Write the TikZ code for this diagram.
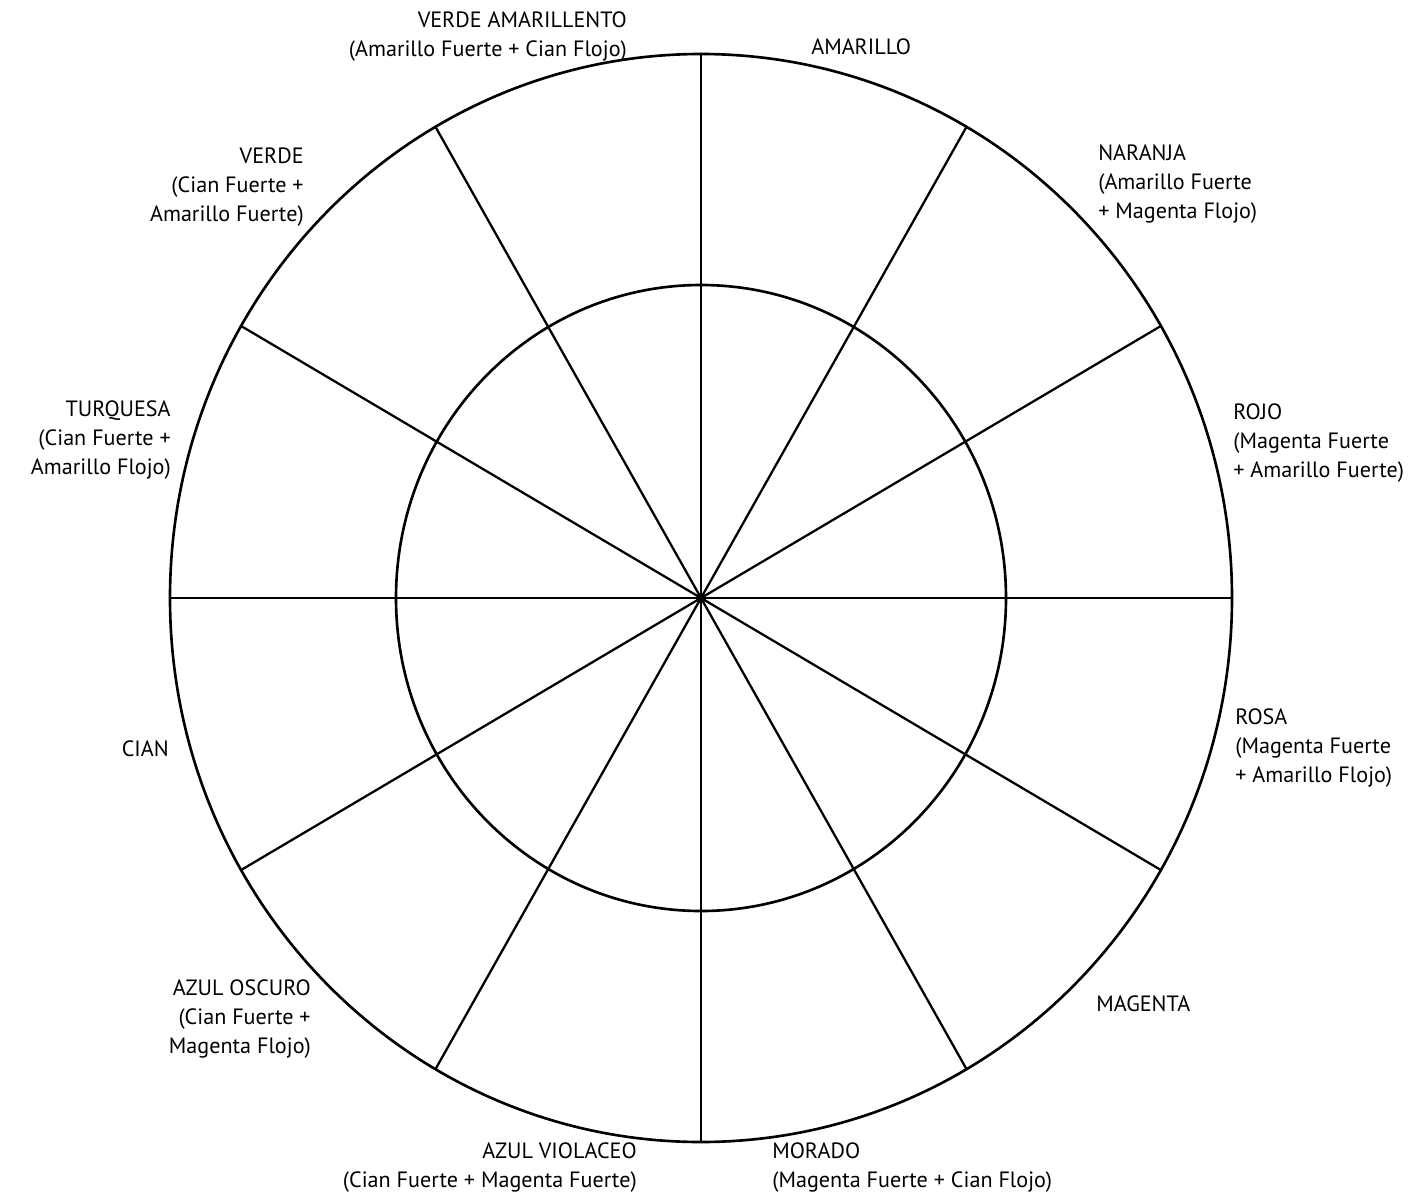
\documentclass[tikz,border=0pt]{standalone}
\usepackage{fontspec}
\setmainfont{PT Sans}
\usetikzlibrary{positioning}
\tikzset{
    every picture/.style={
        every path/.style={line width=1.5pt},
    },
    lblright/.style={anchor=west, align=left, inner sep=0pt, font=\fontsize{12.6}{16.5}\selectfont},
    lblleft/.style={anchor=east, align=right, inner sep=0pt, font=\fontsize{12.6}{16.5}\selectfont},
}

\begin{document}
\begin{tikzpicture}[x=0.02cm, y=-0.02cm]
    \useasboundingbox (0,0) rectangle (1418,1197);
    \coordinate (c) at (701,598);
    % wheel
    \draw (c) ellipse [x radius=531, y radius=544];
    \draw (c) ellipse [x radius=305, y radius=313];
    \foreach \a in {0,30,...,330}
        \draw[line width=1.3pt] (c) -- ++({531*cos(\a)},{544*sin(\a)});
    \fill (c) circle [radius=5];
    % labels
    \node[lblleft] (verdeam) at (628,37) {VERDE AMARILLENTO\\(Amarillo Fuerte + Cian Flojo)};
    \node[lblright] (amarillo) at (810,47) {AMARILLO};
    \node[lblright] (naranja) at (1097,184) {NARANJA\\(Amarillo Fuerte\\+ Magenta Flojo)};
    \node[lblright] (rojo) at (1232,443) {ROJO\\(Magenta Fuerte\\+ Amarillo Fuerte)};
    \node[lblright] (rosa) at (1234,748) {ROSA\\(Magenta Fuerte\\+ Amarillo Flojo)};
    \node[lblright] (magenta) at (1095,1004) {MAGENTA};
    \node[lblright] (morado) at (771,1168) {MORADO\\(Magenta Fuerte + Cian Flojo)};
    \node[lblleft] (azulvio) at (638,1168) {AZUL VIOLACEO\\(Cian Fuerte + Magenta Fuerte)};
    \node[lblleft] (azulosc) at (312,1019) {AZUL OSCURO\\(Cian Fuerte +\\Magenta Flojo)};
    \node[lblleft] (cian) at (170,749) {CIAN};
    \node[lblleft] (turquesa) at (172,440) {TURQUESA\\(Cian Fuerte +\\Amarillo Flojo)};
    \node[lblleft] (verde) at (305,187) {VERDE\\(Cian Fuerte +\\Amarillo Fuerte)};
\end{tikzpicture}
\end{document}
